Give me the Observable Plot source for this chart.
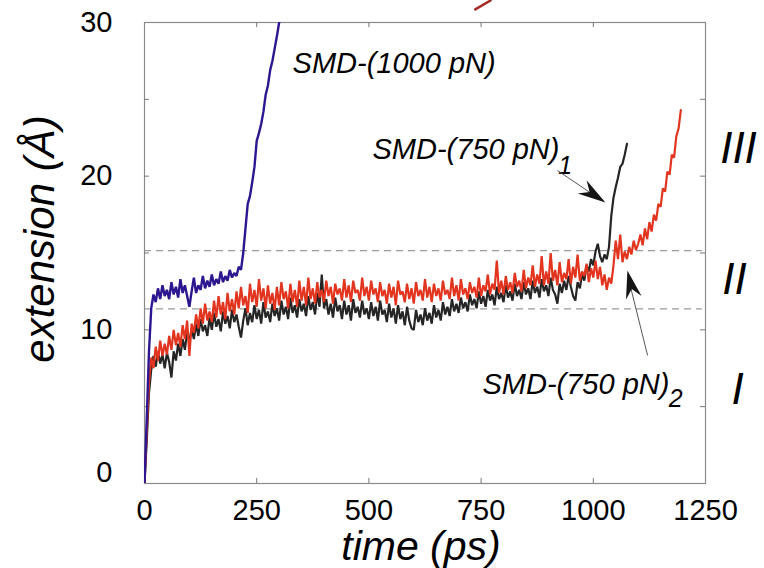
<!DOCTYPE html>
<html><head><meta charset="utf-8">
<script src="https://cdn.jsdelivr.net/npm/d3@7"></script>
<script src="https://cdn.jsdelivr.net/npm/@observablehq/plot@0.6"></script>
<style>body{margin:0;background:#fff;} #chart{width:764px;height:568px;}</style>
</head><body><div id="chart"></div>
<script>
// time samples (ps)
const times = [
0,5,10,15,20,25,30,35,40,45,50,55,60,65,70,75,80,85,90,95,
100,105,110,115,120,125,130,135,140,145,150,155,160,165,170,175,180,185,190,195,
200,205,210,215,220,225,230,235,240,245,250,255,260,265,270,275,280,285,290,295,
300,305,310,315,320,325,330,335,340,345,350,355,360,365,370,375,380,385,390,395,
400,405,410,415,420,425,430,435,440,445,450,455,460,465,470,475,480,485,490,495,
500,505,510,515,520,525,530,535,540,545,550,555,560,565,570,575,580,585,590,595,
600,605,610,615,620,625,630,635,640,645,650,655,660,665,670,675,680,685,690,695,
700,705,710,715,720,725,730,735,740,745,750,755,760,765,770,775,780,785,790,795,
800,805,810,815,820,825,830,835,840,845,850,855,860,865,870,875,880,885,890,895,
900,905,910,915,920,925,930,935,940,945,950,955,960,965,970,975,980,985,990,995,
1000,1005,1010,1015,1020,1025,1030,1035,1040,1045,1050,1055,1060,1065,1070,1075,1080,1085,1090,1095,
1100,1105,1110,1115,1120,1125,1130,1135,1140,1145,1150,1155,1160,1165,1170,1175,1180,1185,1190,1195
];

// SMD-(750 pN)_2  (red)
const red750b = [
0,3.4,6.6,8.2,7.5,8.9,8.0,9.3,8.3,9.1,
8.4,9.6,8.7,10.0,9.0,9.8,8.9,10.3,9.4,10.6,
8.3,10.4,9.8,11.0,10.1,11.4,10.4,11.7,10.6,11.2,
10.5,11.9,10.8,12.2,11.0,11.8,10.7,12.4,11.2,12.0,
11.0,12.5,11.4,12.8,11.6,12.2,11.1,13.0,11.8,12.6,
11.5,13.3,11.9,12.7,11.4,12.9,11.7,12.4,11.3,12.8,
11.6,13.1,12.0,12.5,11.4,13.0,11.8,12.6,11.5,13.2,
11.9,12.8,11.6,13.4,12.0,12.7,11.7,13.1,12.1,12.6,
11.8,13.2,12.2,12.8,11.7,13.0,12.3,12.7,11.9,13.3,
12.1,12.9,11.8,13.2,12.4,12.6,11.9,13.4,12.2,12.8,
11.9,13.2,12.3,12.7,11.8,13.1,12.2,12.6,11.7,13.0,
12.1,12.8,11.6,13.2,12.3,12.5,11.8,13.0,12.0,12.7,
11.7,13.1,12.2,12.6,11.9,13.3,12.1,12.8,11.8,13.0,
12.2,12.7,11.9,13.2,12.3,12.6,12.0,13.4,12.2,12.9,
11.9,13.3,12.3,12.7,12.0,13.1,12.4,12.8,12.1,13.4,
12.2,12.9,12.5,13.6,12.3,13.0,12.6,14.5,12.4,13.2,
12.3,13.5,12.6,13.1,12.4,13.7,12.8,13.2,12.5,13.9,
12.7,13.4,12.9,14.2,12.8,13.6,13.0,14.8,12.9,13.8,
13.0,15.0,13.2,13.9,12.9,14.4,13.1,13.7,13.3,14.6,
13.0,14.1,13.4,14.9,13.2,13.8,13.5,14.3,13.1,14.0,
13.4,14.5,13.3,14.1,12.9,13.6,12.6,13.4,13.0,14.2,
15.8,14.6,16.2,14.4,15.1,14.6,15.4,14.9,15.8,15.2,
15.6,16.2,15.5,16.6,15.9,17.0,16.4,17.5,17.1,18.2,
18.0,19.2,19.0,20.3,20.1,21.4,21.2,22.6,23.1,24.3
];

// SMD-(750 pN)_1  (black)
const black750a = [
0,2.8,5.9,7.4,8.3,7.6,8.6,7.8,8.4,7.5,
8.5,7.9,6.9,8.6,8.0,9.1,8.3,9.4,8.7,9.9,
9.2,10.1,9.4,10.4,9.6,10.7,9.9,10.3,9.6,10.8,
10.0,11.1,10.2,10.7,9.9,11.2,10.4,10.9,10.1,11.3,
10.5,11.0,10.2,9.5,10.6,11.4,10.3,11.1,10.5,11.6,
10.7,11.3,10.4,11.8,10.8,11.2,10.5,11.7,10.9,11.4,
10.6,11.9,11.0,11.5,10.7,12.1,11.1,11.6,10.8,12.0,
11.2,11.7,10.9,12.2,11.3,11.8,11.0,12.4,11.5,13.6,
11.4,12.0,11.0,11.7,10.8,12.1,11.2,11.6,10.7,11.9,
11.0,11.6,10.6,12.0,11.1,11.5,10.8,11.9,11.0,11.4,
10.7,11.8,10.9,11.5,10.6,11.9,11.0,11.3,10.5,11.7,
10.8,11.4,10.4,11.6,10.7,11.2,10.3,11.5,10.6,10.1,
10.0,11.3,10.5,11.0,10.3,11.4,10.6,11.1,10.4,11.6,
10.8,11.3,10.6,11.8,11.0,11.5,10.9,12.0,11.2,11.7,
11.1,12.1,11.4,11.8,11.2,12.3,11.6,12.0,11.4,12.5,
11.7,12.2,11.5,12.6,11.9,12.3,11.6,12.8,12.0,12.4,
11.8,12.9,12.1,12.5,11.9,13.0,12.2,12.6,12.0,13.1,
12.3,12.7,12.0,13.2,12.4,12.8,12.1,13.3,12.5,12.9,
12.2,13.4,12.6,12.3,11.7,13.0,12.4,13.2,12.6,13.5,
12.8,12.2,11.9,13.1,12.7,13.6,13.2,14.2,13.8,14.6,
14.2,15.1,15.6,14.8,14.4,14.9,14.6,15.4,17.4,18.6,
19.3,19.9,20.6,20.8,21.4,22.1
];

// SMD-(1000 pN)  (blue)
const blue1000 = [
0,4.2,8.6,11.4,12.3,11.8,12.7,12.0,12.9,12.2,
12.6,12.0,13.1,12.3,12.8,12.1,13.3,12.4,12.9,12.2,
11.5,12.5,13.4,12.4,12.9,12.6,13.5,12.7,13.2,12.8,
13.6,12.9,13.3,13.0,13.8,13.1,13.5,13.2,13.9,13.4,
13.7,13.5,14.1,13.9,15.0,16.6,18.2,18.7,19.6,20.6,
22.3,22.8,23.4,24.2,25.3,25.9,26.9,27.5,28.3,29.1,
30.0,31.0
];

const xTicks = [0, 250, 500, 750, 1000, 1250];
const xInnerTicks = [250, 500, 750, 1000];
const yTicks = [0, 10, 20, 30];
const yInnerTicks = [5, 10, 15, 20, 25];
const regionBounds = [15.16, 11.37];
const topFragment = [[737, 30.85], [771, 31.43]];

const rows = (vals) => vals.map((v, i) => ({t: times[i], v}));

const stealth = {
  draw(ctx) {
    ctx.moveTo(0, 0);
    ctx.lineTo(-28, -8);
    ctx.lineTo(-19, 0);
    ctx.lineTo(-28, 8);
    ctx.closePath();
  }
};

const font = "'Liberation Sans', Arial, Helvetica, sans-serif";

const chart = Plot.plot({
  width: 764, height: 568,
  marginLeft: 144, marginRight: 59, marginTop: 22, marginBottom: 85,
  x: {domain: [0, 1250], axis: null},
  y: {domain: [0, 30], axis: null},
  style: {fontFamily: font, background: "white", overflow: "visible"},
  marks: [
    Plot.ruleY(regionBounds, {x1: 0, x2: 1243, stroke: "#9a9a9a", strokeWidth: 1.3, strokeDasharray: "7,5"}),
    Plot.frame({stroke: "#8a8a8a", strokeWidth: 1.2}),
    // inward ticks
    Plot.ruleX(xInnerTicks, {y1: 0, y2: 0.33, stroke: "#777"}),
    Plot.ruleX(xInnerTicks, {y1: 29.67, y2: 30, stroke: "#777"}),
    Plot.ruleY(yInnerTicks, {x1: 0, x2: 11, stroke: "#777"}),
    Plot.ruleY(yInnerTicks, {x1: 1239, x2: 1250, stroke: "#777"}),
    // data
    Plot.line(rows(black750a), {x: "t", y: "v", stroke: "#252525", strokeWidth: 2.2, strokeLinejoin: "miter", clip: true}),
    Plot.line(rows(red750b), {x: "t", y: "v", stroke: "#e23520", strokeWidth: 2.2, strokeLinejoin: "miter", clip: true}),
    Plot.line(rows(blue1000), {x: "t", y: "v", stroke: "#2d1690", strokeWidth: 2.4, strokeLinejoin: "miter", clip: true}),
    Plot.line(topFragment, {x: d => d[0], y: d => d[1], stroke: "#a52a22", strokeWidth: 2.5}),
    // tick labels
    Plot.text(xTicks, {x: d => d, y: 0, dy: 27, text: d => String(d), fontSize: 29, fill: "#000"}),
    Plot.text(yTicks.filter(d => d !== 0), {x: 0, y: d => d, dx: -32, text: d => String(d), textAnchor: "end", fontSize: 29, fill: "#000"}),
    Plot.text(yTicks.filter(d => d === 0), {x: 0, y: d => d, dx: -32, dy: -11, text: d => String(d), textAnchor: "end", fontSize: 29, fill: "#000"}),
    // axis titles
    Plot.text(["time (ps)"], {frameAnchor: "bottom", textAnchor: "middle", lineAnchor: "middle", dx: -4, dy: 63, fontSize: 41, fontStyle: "italic", fill: "#000"}),
    Plot.text(["extension (Å)"], {frameAnchor: "left", textAnchor: "middle", lineAnchor: "middle", dx: -104, dy: -14, rotate: -90, fontSize: 42, fontStyle: "italic", fill: "#000"}),
    // series labels
    Plot.text(["SMD-(1000 pN)"], {x: 330, y: 27.29, textAnchor: "start", fontSize: 29, fontStyle: "italic", fill: "#000"}),
    Plot.text(["SMD-(750 pN)"], {x: 508, y: 21.75, textAnchor: "start", fontSize: 29, fontStyle: "italic", fill: "#000"}),
    Plot.text(["1"], {x: 922, y: 20.69, textAnchor: "start", fontSize: 25, fontStyle: "italic", fill: "#000"}),
    Plot.text(["SMD-(750 pN)"], {x: 753, y: 6.46, textAnchor: "start", fontSize: 29, fontStyle: "italic", fill: "#000"}),
    Plot.text(["2"], {x: 1168, y: 5.47, textAnchor: "start", fontSize: 25, fontStyle: "italic", fill: "#000"}),
    // arrows
    Plot.link([0], {x1: 920, y1: 20.37, x2: 1010, y2: 18.6, stroke: "#555", strokeWidth: 1}),
    Plot.dot([0], {x: 1027, y: 18.29, symbol: stealth, r: 5, rotate: 33.7, fill: "#151515", stroke: "none"}),
    Plot.link([0], {x1: 1121, y1: 8.33, x2: 1082, y2: 12.9, stroke: "#555", strokeWidth: 1}),
    Plot.dot([0], {x: 1076, y: 13.86, symbol: stealth, r: 5, rotate: -103.2, fill: "#151515", stroke: "none"}),
    // region labels
    Plot.text(["III"], {x: 1250, y: 21.8, dx: 33, fontSize: 44, fontStyle: "italic", fill: "#000"}),
    Plot.text(["II"], {x: 1250, y: 13.28, dx: 29, fontSize: 44, fontStyle: "italic", fill: "#000"}),
    Plot.text(["I"], {x: 1250, y: 6.12, dx: 32, fontSize: 44, fontStyle: "italic", fill: "#000"})
  ]
});
document.getElementById("chart").append(chart);
</script>
</body></html>
